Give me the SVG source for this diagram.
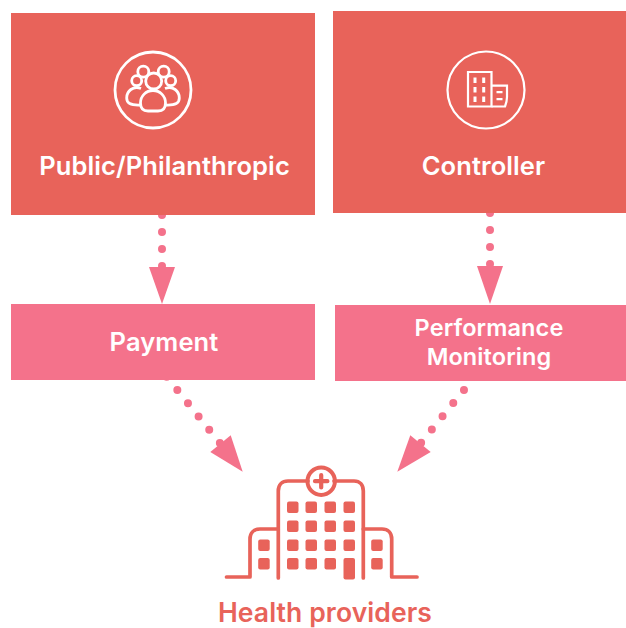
<svg xmlns="http://www.w3.org/2000/svg" width="626" height="628" viewBox="0 0 626 628">
<style>
.t{font-family:"Inter","Liberation Sans",sans-serif;font-weight:600;text-anchor:middle;fill:#fff;font-size:25.500px;letter-spacing:.1px}
.s{font-size:23.500px}
.r{fill:#E8635A}.p{fill:#F4728B}
.w{fill:none;stroke:#fff;stroke-width:2.800}
.ws{fill:none;stroke:#fff;stroke-width:2.200}
.h{fill:none;stroke:#E8635A;stroke-width:3.700;stroke-linecap:round;stroke-linejoin:round}
.win{fill:#E8635A}
.d{fill:none;stroke:#F4728B;stroke-width:8;stroke-linecap:round;stroke-dasharray:0 17}
.a{fill:#F4728B}
</style>
<rect width="626" height="628" fill="#fff"/>
<g id="connectors">
<path class="d" d="M162 215V267"/><polygon class="a" points="149,267 175,267 162,304"/>
<path class="d" d="M490 213V265"/><polygon class="a" points="477,266 503,266 490,304"/>
<path class="d" d="M166.700 376.700L220 443.200"/><polygon class="a" points="230.700,435.300 210.300,452 242.700,471.700"/>
<path class="d" d="M474.700 376.700L420.700 443.200"/><polygon class="a" points="410.300,435.300 430.700,452 397.300,471.700"/>
</g>
<g id="public">
<rect class="r" x="11" y="13" width="304" height="202"/>
<circle class="w" cx="153" cy="90" r="38"/>
<circle class="w" cx="143.300" cy="71.700" r="5.500"/><circle class="w" cx="163.700" cy="71.700" r="5.500"/>
<circle class="w" cx="136.700" cy="80.700" r="5"/><circle class="w" cx="170.700" cy="80.700" r="5"/>
<circle class="w" cx="153.700" cy="81" r="8"/>
<path class="w" d="M153 90.500C160 90.500 165.500 96 165.500 103C165.500 108 163 111 158 111H148C143 111 140.500 108 140.500 103C140.500 96 146 90.500 153 90.500Z"/>
<path class="w" d="M141 88.500C133 85.500 126.700 91 126.700 98C126.700 103 130 105.500 140.500 105"/>
<path class="w" d="M165 88.500C173 85.500 179.300 91 179.300 98C179.300 103 176 105.500 165.500 105"/>
<text class="t" x="164.500" y="174.500">Public/Philanthropic</text>
</g>
<g id="controller">
<rect class="r" x="333" y="11" width="293" height="202"/>
<circle class="ws" cx="486" cy="90" r="38.500"/>
<path class="ws" d="M468 106.500V72H491.500V106.500Z"/>
<path class="ws" d="M491.500 85.700H507V97C507 101 506 104 505 106.500H491.500"/>
<path fill="#fff" d="M473.500 77.500h3v5.500h-3zM482.200 77.500h3v5.500h-3zM473.500 87h3v5.500h-3zM482.200 87h3v5.500h-3zM473.500 96.500h3v5.500h-3zM482.200 96.500h3v5.500h-3zM496.500 91h6v2.200h-6zM496.500 98h6v2.200h-6z"/>
<text class="t" x="483.500" y="174.500">Controller</text>
</g>
<g id="payment">
<rect class="p" x="11" y="304" width="304" height="76"/>
<text class="t" x="164" y="351">Payment</text>
</g>
<g id="performance">
<rect class="p" x="335" y="305" width="291" height="76"/>
<text class="t s" x="489" y="336">Performance</text>
<text class="t s" x="489" y="365">Monitoring</text>
</g>
<g id="health">
<path class="h" d="M278.300 578V491C278.300 485 282 481 288 481H308M334 481H354C360 481 363.300 485 363.300 491V578"/>
<circle class="h" cx="321.200" cy="481.200" r="13.700" style="stroke-width:4"/>
<path class="h" d="M321.200 475V487.400M315 481.200H327.400" style="stroke-width:4.200"/>
<path class="h" d="M278.300 529H260C254 529 250 533 250 539V577H226.500M363.300 529H382C388 529 391.700 533 391.700 539V577H417"/>
<g class="win">
<rect x="287" y="501.500" width="11.500" height="11.500" rx="2"/><rect x="305.500" y="501.500" width="11.500" height="11.500" rx="2"/><rect x="324.500" y="501.500" width="11.500" height="11.500" rx="2"/><rect x="343.500" y="501.500" width="11.500" height="11.500" rx="2"/>
<rect x="287" y="520.500" width="11.500" height="11.500" rx="2"/><rect x="305.500" y="520.500" width="11.500" height="11.500" rx="2"/><rect x="324.500" y="520.500" width="11.500" height="11.500" rx="2"/><rect x="343.500" y="520.500" width="11.500" height="11.500" rx="2"/>
<rect x="287" y="539.500" width="11.500" height="11.500" rx="2"/><rect x="305.500" y="539.500" width="11.500" height="11.500" rx="2"/><rect x="324.500" y="539.500" width="11.500" height="11.500" rx="2"/><rect x="343.500" y="539.500" width="11.500" height="11.500" rx="2"/>
<rect x="287" y="558" width="11.500" height="11.500" rx="2"/><rect x="305.500" y="558" width="11.500" height="11.500" rx="2"/><rect x="324.500" y="558" width="11.500" height="11.500" rx="2"/>
<rect x="343.500" y="558" width="11.500" height="21.500" rx="2"/>
<rect x="258.200" y="539.500" width="11.500" height="11.500" rx="2"/><rect x="258.200" y="558" width="11.500" height="11.500" rx="2"/>
<rect x="371.200" y="539.500" width="11.500" height="11.500" rx="2"/><rect x="371.200" y="558" width="11.500" height="11.500" rx="2"/>
</g>
<text class="t" x="325" y="622" style="fill:#E8635A;font-size:26.500px">Health providers</text>
</g>
</svg>
